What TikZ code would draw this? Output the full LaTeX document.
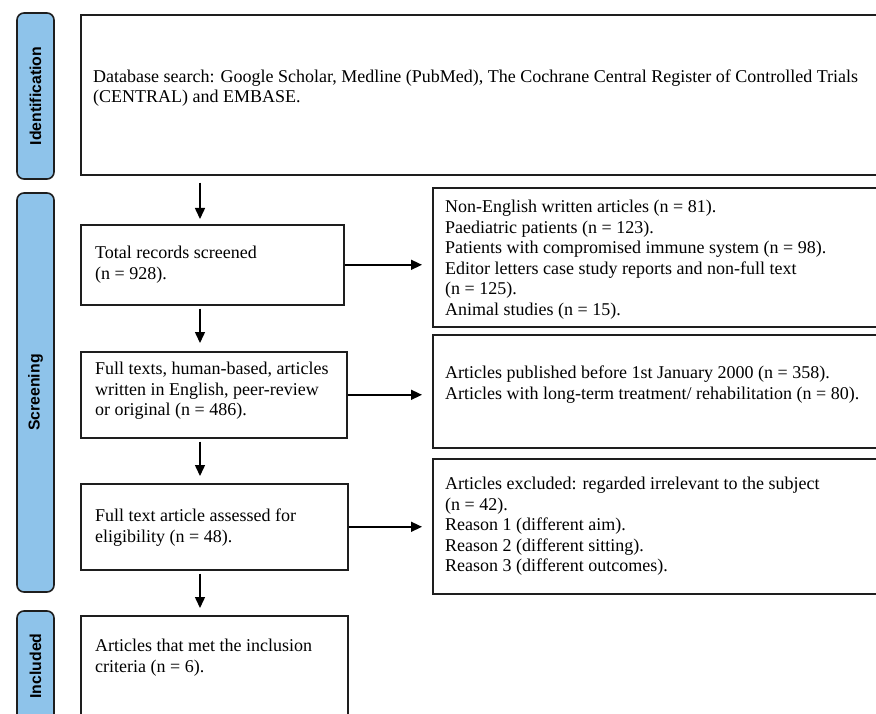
\documentclass[tikz,border=0pt]{standalone}
\usepackage{fontspec}
\setmainfont{Liberation Serif}
\newfontfamily\labelfont{Liberation Sans}
\usetikzlibrary{arrows.meta}
\definecolor{phaseblue}{RGB}{142,195,234}
\definecolor{edge}{RGB}{30,30,30}
\begin{document}
\begin{tikzpicture}[x=1pt,y=-1pt,
  box/.style={draw=edge,line width=1.6pt,rectangle,anchor=north west,inner sep=0pt},
  txt/.style={anchor=north west,align=left,inner sep=0pt,font=\fontsize{18}{20.5}\selectfont},
  phase/.style={draw=edge,fill=phaseblue,line width=1.6pt,rounded corners=7pt,rotate=90,
    minimum height=37pt,inner sep=0pt,font=\labelfont\bfseries\fontsize{15.8}{18}\selectfont},
  arr/.style={draw=black,line width=1.5pt,-{Triangle[length=11pt,width=10pt]}}
]
\useasboundingbox (0,0) rectangle (876,714);
\clip (0,0) rectangle (876,714);
\fill[white] (0,0) rectangle (876,714);

% phase labels
\node[phase,minimum width=166pt] (pid) at (35.5,96) {Identification};
\node[phase,minimum width=399pt] (pscr) at (35.5,392.5) {Screening};
\node[phase,minimum width=110pt] (pinc) at (35.5,666) {Included};

% boxes
\node[box,minimum width=820pt,minimum height=160pt] (ident) at (80,14) {};
\node[box,minimum width=263pt,minimum height=80pt] (total) at (80,224) {};
\node[box,minimum width=266pt,minimum height=86pt] (full) at (80,351) {};
\node[box,minimum width=267pt,minimum height=86pt] (elig) at (80,483) {};
\node[box,minimum width=267pt,minimum height=130pt] (incl) at (80,615) {};
\node[box,minimum width=468pt,minimum height=139pt] (ex1) at (432,187) {};
\node[box,minimum width=468pt,minimum height=113pt] (ex2) at (432,334) {};
\node[box,minimum width=468pt,minimum height=135pt] (ex3) at (432,458) {};

% texts
\node[txt] (tident) at (93,82-14.35) {\strut Database search: Google Scholar, Medline (PubMed), The Cochrane Central Register of Controlled Trials\\(CENTRAL) and EMBASE.};
\node[txt] (ttotal) at (95,258.5-14.35) {\strut Total records screened\\(n = 928).};
\node[txt] (tfull) at (95,374.5-14.35) {\strut Full texts, human-based, articles\\written in English, peer-review\\or original (n = 486).};
\node[txt] (telig) at (95,521.5-14.35) {\strut Full text article assessed for\\eligibility (n = 48).};
\node[txt,font=\fontsize{18}{21.5}\selectfont] (tincl) at (95,651-15) {\strut Articles that met the inclusion\\criteria (n = 6).};
\node[txt] (tex1) at (445,212.5-14.35) {\strut Non-English written articles (n = 81).\\Paediatric patients (n = 123).\\Patients with compromised immune system (n = 98).\\Editor letters case study reports and non-full text\\(n = 125).\\Animal studies (n = 15).};
\node[txt] (tex2) at (445,378.5-14.35) {\strut Articles published before 1st January 2000 (n = 358).\\Articles with long-term treatment/ rehabilitation (n = 80).};
\node[txt] (tex3) at (445,489.5-14.35) {\strut Articles excluded: regarded irrelevant to the subject\\(n = 42).\\Reason 1 (different aim).\\Reason 2 (different sitting).\\Reason 3 (different outcomes).};

% vertical arrows
\coordinate (ax) at (200,0);
\draw[arr,shorten <=7pt,shorten >=5pt] (ident.south -| ax) -- (total.north -| ax);
\draw[arr,shorten <=3pt,shorten >=8pt] (total.south -| ax) -- (full.north -| ax);
\draw[arr,shorten <=3pt,shorten >=7pt] (full.south -| ax) -- (elig.north -| ax);
\draw[arr,shorten <=3pt,shorten >=7pt] (elig.south -| ax) -- (incl.north -| ax);

% horizontal arrows
\draw[arr,shorten >=10pt] (total.east) -- (total.east -| ex1.west);
\draw[arr,shorten >=10pt] (full.east) -- (full.east -| ex2.west);
\draw[arr,shorten >=10pt] (elig.east) -- (elig.east -| ex3.west);
\end{tikzpicture}
\end{document}
